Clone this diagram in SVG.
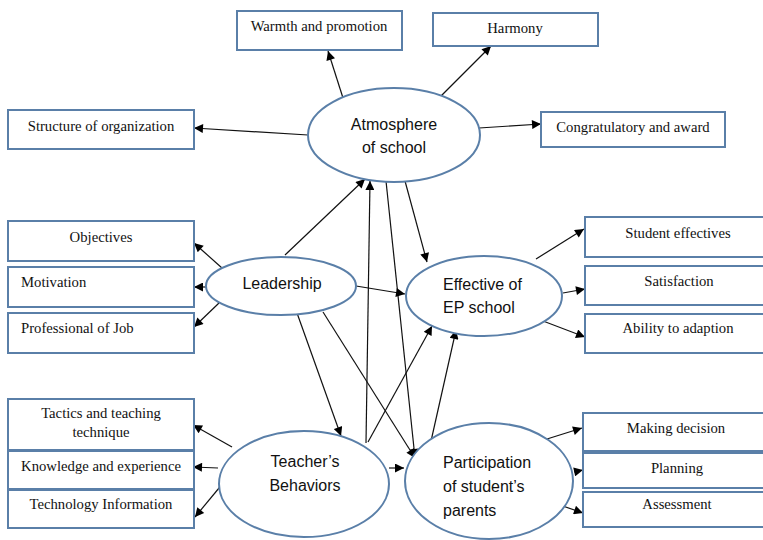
<svg xmlns="http://www.w3.org/2000/svg" width="763" height="540" viewBox="0 0 763 540">
<style>
.box{fill:#fff;stroke:#5a7fa8;stroke-width:2}
.ell{fill:#fff;stroke:#5a7fa8;stroke-width:2}
.bt{font-family:"Liberation Serif","Times New Roman",serif;font-size:14.7px;fill:#111;text-anchor:middle}
.btl{font-family:"Liberation Serif","Times New Roman",serif;font-size:14.7px;fill:#111}
.et{font-family:"Liberation Sans",Arial,sans-serif;font-size:16px;fill:#111;text-anchor:middle}
.etl{font-family:"Liberation Sans",Arial,sans-serif;font-size:16px;fill:#111}
.c{stroke:#111;stroke-width:1.2;fill:none;marker-end:url(#ah)}
</style>
<defs>
<marker id="ah" viewBox="0 0 10 10" refX="10" refY="5" markerWidth="11" markerHeight="9" markerUnits="userSpaceOnUse" orient="auto">
<path d="M0,0 L10,5 L0,10 z" fill="#000"/>
</marker>
</defs>
<rect width="763" height="540" fill="#fff"/>

<g id="connectors">
<line class="c" x1="343" y1="98" x2="328" y2="51"/>
<line class="c" x1="440" y1="97" x2="491" y2="46"/>
<line class="c" x1="308" y1="135" x2="194" y2="128"/>
<line class="c" x1="479" y1="128" x2="541" y2="124"/>
<line class="c" x1="405" y1="181" x2="427" y2="262"/>
<line class="c" x1="386" y1="181" x2="415" y2="458"/>
<line class="c" x1="366" y1="443" x2="370" y2="181"/>
<line class="c" x1="285" y1="255" x2="365" y2="179"/>
<line class="c" x1="356" y1="286" x2="405" y2="294"/>
<line class="c" x1="297" y1="313" x2="341" y2="436"/>
<line class="c" x1="323" y1="312" x2="415" y2="458"/>
<line class="c" x1="368" y1="442" x2="432" y2="326"/>
<line class="c" x1="429" y1="450" x2="456" y2="330"/>
<line class="c" x1="389" y1="468" x2="404" y2="468"/>
<line class="c" x1="222" y1="268" x2="194" y2="243"/>
<line class="c" x1="207" y1="287" x2="194" y2="287"/>
<line class="c" x1="219" y1="303" x2="194" y2="327"/>
<line class="c" x1="536" y1="259" x2="584" y2="229"/>
<line class="c" x1="563" y1="293" x2="585" y2="289"/>
<line class="c" x1="543" y1="321" x2="585" y2="337"/>
<line class="c" x1="232" y1="447" x2="193" y2="425"/>
<line class="c" x1="218" y1="468" x2="193" y2="467"/>
<line class="c" x1="224" y1="482" x2="195" y2="517"/>
<line class="c" x1="547" y1="439" x2="582" y2="428"/>
<line class="c" x1="574" y1="472" x2="583" y2="470"/>
<line class="c" x1="557" y1="504" x2="583" y2="513"/>
</g>

<g id="warmth"><rect class="box" x="237" y="11" width="165" height="39"/><text class="bt" x="319" y="31">Warmth and promotion</text></g>
<g id="harmony"><rect class="box" x="433" y="13" width="165" height="33"/><text class="bt" x="515" y="33">Harmony</text></g>
<g id="structure"><rect class="box" x="8" y="110" width="186" height="39"/><text class="bt" x="101" y="131">Structure of organization</text></g>
<g id="congratulatory"><rect class="box" x="541" y="112" width="184" height="35"/><text class="bt" x="633" y="132">Congratulatory and award</text></g>

<g id="objectives"><rect class="box" x="8" y="221" width="186" height="40"/><text class="bt" x="101" y="242">Objectives</text></g>
<g id="motivation"><rect class="box" x="8" y="267" width="186" height="40"/><text class="btl" x="21" y="287">Motivation</text></g>
<g id="professional"><rect class="box" x="8" y="313" width="186" height="40"/><text class="btl" x="21" y="333">Professional of Job</text></g>

<g id="student-effectives"><rect class="box" x="585" y="217" width="186" height="40"/><text class="bt" x="678" y="238">Student effectives</text></g>
<g id="satisfaction"><rect class="box" x="585" y="266" width="186" height="39"/><text class="bt" x="679" y="286">Satisfaction</text></g>
<g id="ability"><rect class="box" x="585" y="314" width="186" height="39"/><text class="bt" x="678" y="333">Ability to adaption</text></g>

<g id="tactics"><rect class="box" x="8" y="399" width="186" height="51"/><text class="bt" x="101" y="418">Tactics and teaching</text><text class="bt" x="101" y="437">technique</text></g>
<g id="knowledge"><rect class="box" x="8" y="451" width="186" height="38"/><text class="bt" x="101" y="471">Knowledge and experience</text></g>
<g id="technology"><rect class="box" x="8" y="490" width="186" height="38"/><text class="bt" x="101" y="509">Technology Information</text></g>

<g id="making-decision"><rect class="box" x="583" y="413" width="188" height="38"/><text class="bt" x="676" y="433">Making decision</text></g>
<g id="planning"><rect class="box" x="583" y="453" width="188" height="35"/><text class="bt" x="677" y="473">Planning</text></g>
<g id="assessment"><rect class="box" x="583" y="492" width="188" height="35"/><text class="bt" x="677" y="509">Assessment</text></g>

<g id="atmosphere"><ellipse class="ell" cx="394" cy="135" rx="86" ry="47"/><text class="et" x="394" y="130">Atmosphere</text><text class="et" x="394" y="153">of school</text></g>
<g id="leadership"><ellipse class="ell" cx="281" cy="286" rx="75" ry="29"/><text class="et" x="282" y="289">Leadership</text></g>
<g id="effective"><ellipse class="ell" cx="484" cy="296" rx="78" ry="40"/><text class="etl" x="443" y="290">Effective of</text><text class="etl" x="443" y="313">EP school</text></g>
<g id="teacher"><ellipse class="ell" cx="304" cy="484" rx="85" ry="53"/><text class="et" x="305" y="467">Teacher’s</text><text class="et" x="305" y="491">Behaviors</text></g>
<g id="participation"><ellipse class="ell" cx="489" cy="481" rx="84" ry="58"/><text class="etl" x="443" y="468">Participation</text><text class="etl" x="443" y="492">of student’s</text><text class="etl" x="443" y="516">parents</text></g>
</svg>
